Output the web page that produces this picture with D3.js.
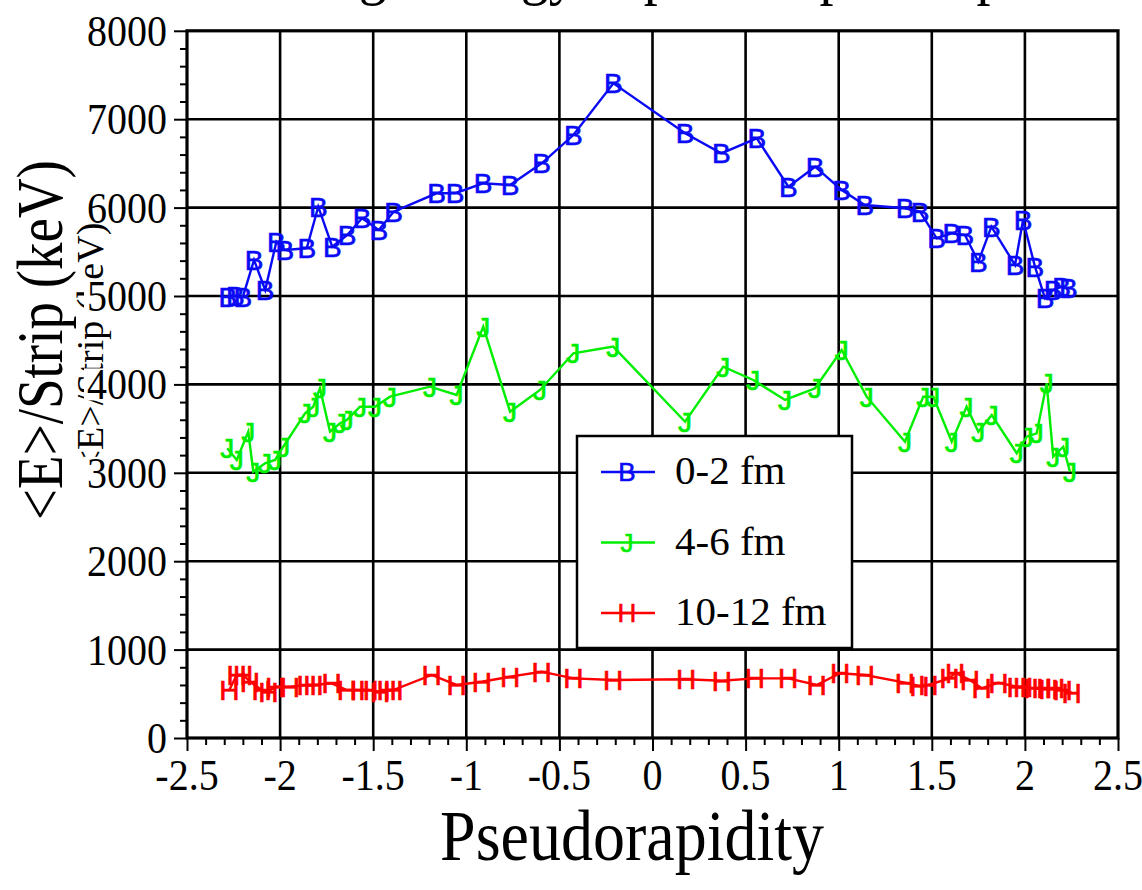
<!DOCTYPE html>
<html>
<head>
<meta charset="utf-8">
<script src="https://cdn.jsdelivr.net/npm/d3@7"></script>
<style>
  body { margin: 0; background: #fff; }
  svg { display: block; }
</style>
</head>
<body>
<div id="chart"></div>
<script>
// ---- data ----
var eta02 = [-2.28, -2.24, -2.20, -2.14, -2.08, -2.02, -1.975, -1.857, -1.795, -1.72, -1.64, -1.56, -1.47, -1.39,
             -1.16, -1.06, -0.91, -0.765, -0.595, -0.425, -0.21, 0.175, 0.37, 0.56, 0.73, 0.873, 1.016, 1.14,
             1.356, 1.437, 1.526, 1.607, 1.678, 1.75, 1.82, 1.947, 1.99, 2.054, 2.108, 2.152, 2.197, 2.233];
var e02   = [4985, 5000, 4990, 5407, 5068, 5615, 5520, 5540, 6010, 5558, 5690, 5879, 5747, 5954,
             6162, 6162, 6275, 6256, 6501, 6821, 7406, 6840, 6614, 6784, 6237, 6463, 6199, 6029,
             5992, 5954, 5653, 5709, 5690, 5388, 5784, 5351, 5860, 5332, 4974, 5068, 5105, 5087];

var eta46 = [-2.284, -2.233, -2.171, -2.144, -2.081, -2.027, -1.983, -1.866, -1.822, -1.786, -1.732, -1.678, -1.642,
             -1.571, -1.49, -1.41, -1.195, -1.052, -0.909, -0.765, -0.604, -0.425, -0.211, 0.175, 0.38, 0.541,
             0.712, 0.873, 1.016, 1.15, 1.356, 1.454, 1.508, 1.607, 1.687, 1.75, 1.822, 1.956, 2.01, 2.063,
             2.117, 2.152, 2.206, 2.242];
var e46   = [3277, 3145, 3465, 3012, 3107, 3145, 3295, 3673, 3748, 3956, 3465, 3560, 3597,
             3748, 3748, 3861, 3974, 3880, 4653, 3691, 3937, 4352, 4427, 3578, 4200, 4050,
             3824, 3956, 4389, 3861, 3352, 3861, 3861, 3352, 3748, 3465, 3654, 3221, 3408, 3446,
             4012, 3182, 3295, 3012];

var eta1012 = [-2.273, -2.233, -2.198, -2.162, -2.099, -2.063, -2.027, -1.947, -1.857, -1.822, -1.723, -1.642,
               -1.571, -1.526, -1.463, -1.428, -1.392, -1.186, -1.052, -0.917, -0.765, -0.595, -0.425, -0.211,
               0.18, 0.372, 0.55, 0.729, 0.882, 1.007, 1.141, 1.356, 1.433, 1.481, 1.594, 1.625, 1.705, 1.768,
               1.857, 1.956, 1.991, 2.045, 2.09, 2.126, 2.162, 2.203, 2.251];
var e1012   = [543, 713, 713, 637, 543, 524, 580, 580, 600, 600, 619, 543,
               543, 543, 524, 543, 543, 713, 600, 637, 694, 750, 675, 656,
               664, 648, 675, 675, 600, 732, 713, 626, 588, 600, 675, 739, 656, 562,
               626, 580, 580, 562, 562, 551, 562, 543, 513];

var seriesNames   = ["0-2 fm", "4-6 fm", "10-12 fm"];
var seriesMarkers = ["B", "J", "H"];
var seriesColors  = ["#0a0af5", "#00ee00", "#ff0000"];

var xTicks = [-2.5, -2, -1.5, -1, -0.5, 0, 0.5, 1, 1.5, 2, 2.5];
var yTicks = [0, 1000, 2000, 3000, 4000, 5000, 6000, 7000, 8000];

// ---- drawing ----
var width = 1142, height = 890;
var serif = "'Liberation Serif', 'Times New Roman', serif";
var sans = "'Liberation Sans', Arial, sans-serif";

var svg = d3.select("#chart").append("svg")
    .attr("width", width)
    .attr("height", height);

var x = d3.scaleLinear().domain([-2.5, 2.5]).range([187, 1118]);
var y = d3.scaleLinear().domain([0, 8000]).range([738, 30.8]);

var series = [
    eta02.map(function(d, i){ return {x: d, y: e02[i]}; }),
    eta46.map(function(d, i){ return {x: d, y: e46[i]}; }),
    eta1012.map(function(d, i){ return {x: d, y: e1012[i]}; })
];

// title (cut off at the top edge in the original)
svg.append("text")
    .attr("transform", "translate(226,-7) scale(1,1.1)")
    .attr("font-family", serif)
    .attr("font-size", 56)
    .text("Average energy deposited per strip");

// grid
svg.append("g").selectAll("line.vgrid")
    .data(xTicks.slice(1, -1))
    .enter().append("line")
    .attr("x1", function(d){ return x(d); })
    .attr("x2", function(d){ return x(d); })
    .attr("y1", y(0)).attr("y2", y(8000))
    .attr("stroke", "#000").attr("stroke-width", 2.6);

svg.append("g").selectAll("line.hgrid")
    .data(yTicks.slice(1, -1))
    .enter().append("line")
    .attr("x1", x(-2.5)).attr("x2", x(2.5))
    .attr("y1", function(d){ return y(d); })
    .attr("y2", function(d){ return y(d); })
    .attr("stroke", "#000").attr("stroke-width", 2.6);

// minor + major ticks
var xMinor = d3.range(-25, 26).map(function(i){ return i / 10; })
    .filter(function(d){ return Math.abs(d * 2 - Math.round(d * 2)) > 1e-6; });
var yMinor = d3.range(0, 8001, 200).filter(function(d){ return d % 1000 !== 0; });

function styleAxis(g){
    g.select(".domain").remove();
    g.selectAll("line").attr("stroke", "#000").attr("stroke-width", 2);
}

svg.append("g").attr("transform", "translate(0," + y(0) + ")")
    .call(d3.axisBottom(x).tickValues(xTicks).tickSize(13).tickFormat(""))
    .call(styleAxis);
svg.append("g").attr("transform", "translate(0," + y(0) + ")")
    .call(d3.axisBottom(x).tickValues(xMinor).tickSize(7).tickFormat(""))
    .call(styleAxis);
svg.append("g").attr("transform", "translate(" + x(-2.5) + ",0)")
    .call(d3.axisLeft(y).tickValues(yTicks).tickSize(13).tickFormat(""))
    .call(styleAxis);
svg.append("g").attr("transform", "translate(" + x(-2.5) + ",0)")
    .call(d3.axisLeft(y).tickValues(yMinor).tickSize(7).tickFormat(""))
    .call(styleAxis);

// frame
svg.append("rect")
    .attr("x", x(-2.5)).attr("y", y(8000))
    .attr("width", x(2.5) - x(-2.5)).attr("height", y(0) - y(8000))
    .attr("fill", "none").attr("stroke", "#000").attr("stroke-width", 3.2);

// ghost copy of the y label seen in the original, mostly hidden behind the tick labels
svg.append("text")
    .attr("transform", "translate(103,347) rotate(-90)")
    .attr("text-anchor", "middle")
    .attr("font-family", serif)
    .attr("font-size", 38)
    .text("<E>/Strip (keV)");

// tick labels
svg.append("g").selectAll("text")
    .data(xTicks)
    .enter().append("text")
    .attr("transform", function(d){ return "translate(" + x(d) + ",790) scale(1,1.1)"; })
    .attr("text-anchor", "middle")
    .attr("font-family", serif)
    .attr("font-size", 40)
    .text(function(d){ return String(d); });

var yLab = svg.append("g").selectAll("g")
    .data(yTicks)
    .enter().append("g")
    .attr("transform", function(d){ return "translate(167," + y(d) + ")"; });
yLab.append("rect")
    .attr("x", function(d){ return -String(d).length * 20 - 3; })
    .attr("y", -16)
    .attr("width", function(d){ return String(d).length * 20 + 3; })
    .attr("height", 32)
    .attr("fill", "#fff");
yLab.append("text")
    .attr("transform", "translate(0,15) scale(1,1.1)")
    .attr("text-anchor", "end")
    .attr("font-family", serif)
    .attr("font-size", 40)
    .text(function(d){ return String(d); });

// axis titles
svg.append("text")
    .attr("transform", "translate(632,860) scale(1,1.12)")
    .attr("text-anchor", "middle")
    .attr("font-family", serif)
    .attr("font-size", 64)
    .text("Pseudorapidity");

svg.append("text")
    .attr("transform", "translate(62,340) rotate(-90) scale(1,1.2)")
    .attr("text-anchor", "middle")
    .attr("font-family", serif)
    .attr("font-size", 55)
    .text("<E>/Strip (keV)");

// series
var line = d3.line()
    .x(function(d){ return x(d.x); })
    .y(function(d){ return y(d.y); });

series.forEach(function(s, k){
    var g = svg.append("g");
    g.append("path")
        .datum(s)
        .attr("d", line)
        .attr("fill", "none")
        .attr("stroke", seriesColors[k])
        .attr("stroke-width", 2.4);
    g.selectAll("text")
        .data(s)
        .enter().append("text")
        .attr("x", function(d){ return x(d.x); })
        .attr("y", function(d){ return y(d.y); })
        .attr("dy", "0.36em")
        .attr("text-anchor", "middle")
        .attr("font-family", sans)
        .attr("font-size", 28)
        .attr("fill", seriesColors[k])
        .attr("stroke", seriesColors[k])
        .attr("stroke-width", 0.7)
        .text(seriesMarkers[k]);
});

// legend
var legend = svg.append("g");
legend.append("rect")
    .attr("x", 577).attr("y", 436)
    .attr("width", 275).attr("height", 212)
    .attr("fill", "#fff").attr("stroke", "#000").attr("stroke-width", 2.5);

var rows = legend.selectAll("g.row")
    .data(seriesNames)
    .enter().append("g")
    .attr("transform", function(d, i){ return "translate(0," + (472 + i * 70.5) + ")"; });
rows.append("line")
    .attr("x1", 601).attr("x2", 655)
    .attr("stroke", function(d, i){ return seriesColors[i]; })
    .attr("stroke-width", 2.4);
rows.append("text")
    .attr("x", 627).attr("dy", "0.36em")
    .attr("text-anchor", "middle")
    .attr("font-family", sans)
    .attr("font-size", 26)
    .attr("fill", function(d, i){ return seriesColors[i]; })
    .attr("stroke", function(d, i){ return seriesColors[i]; })
    .attr("stroke-width", 0.6)
    .text(function(d, i){ return seriesMarkers[i]; });
rows.append("text")
    .attr("x", 675).attr("y", 12)
    .attr("font-family", serif)
    .attr("font-size", 41)
    .text(function(d){ return d; });
</script>
</body>
</html>
